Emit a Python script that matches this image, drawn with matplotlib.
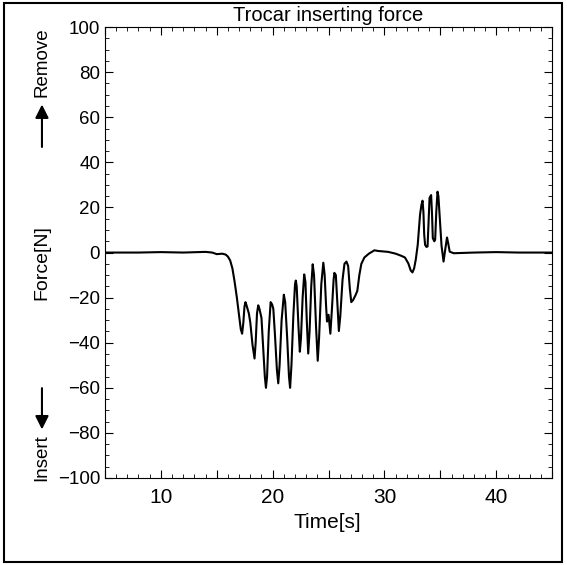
import matplotlib
matplotlib.use('Agg')
import matplotlib.pyplot as plt
from matplotlib.patches import Rectangle
from matplotlib.ticker import MultipleLocator, FuncFormatter

plt.rcParams['font.family'] = ['Liberation Sans', 'DejaVu Sans']

# values (same count on each line)
time_s = [5, 8, 10, 12, 14, 14.6, 15, 15.5, 15.8, 16.0,
          16.2, 16.4, 16.6, 16.8, 17.0, 17.15, 17.27, 17.38, 17.48, 17.57,
          17.67, 17.87, 18.0, 18.2, 18.38, 18.48, 18.6, 18.71, 18.82, 19.0,
          19.15, 19.3, 19.4, 19.5, 19.65, 19.82, 19.95, 20.06, 20.2, 20.38,
          20.5, 20.62, 20.8, 21.0, 21.12, 21.3, 21.46, 21.56, 21.68, 21.85,
          22.0, 22.07, 22.15, 22.3, 22.43, 22.53, 22.68, 22.82, 22.93, 23.05,
          23.18, 23.3, 23.45, 23.58, 23.7, 23.88, 24.03, 24.15, 24.35, 24.53,
          24.65, 24.78, 24.86, 25.0, 25.16, 25.3, 25.45, 25.52, 25.65, 25.78,
          25.92, 26.05, 26.25, 26.42, 26.6, 26.75, 26.9, 27.03, 27.2, 27.4,
          27.57, 27.75, 27.93, 28.2, 28.6, 29.1, 29.43, 30.33, 31.0, 31.53,
          31.83, 32.13, 32.35, 32.5, 32.65, 32.8, 32.97, 33.1, 33.18, 33.3,
          33.4, 33.48, 33.55, 33.63, 33.75, 33.85, 33.95, 34.03, 34.17, 34.25,
          34.32, 34.45, 34.53, 34.63, 34.74, 34.82, 34.92, 35.1, 35.28, 35.42,
          35.59, 35.7, 35.83, 36.19, 38, 40, 42, 45]
force_n = [0, 0, 0.2, 0, 0.3, 0, -0.7, -0.5, -0.9, -1.8,
           -3.5, -7, -13, -20, -28, -34, -36, -31, -24, -22,
           -23.5, -27, -31, -41, -47, -40, -27, -23.4, -25, -29,
           -42, -55, -60, -55, -35, -22, -23, -25, -36, -52,
           -58, -50, -30, -18.7, -22, -38, -55, -60, -50, -28,
           -14, -12.4, -15, -32, -44, -38, -20, -9.7, -13, -30,
           -44.8, -35, -15, -5.2, -10, -33, -48, -38, -14, -4.5,
           -10, -24, -30.6, -27.6, -36, -25, -12, -9, -10, -22,
           -34.8, -28, -12, -5, -4, -6, -16, -22, -21, -19,
           -17, -10, -5, -2.2, -0.5, 1, 0.7, 0.3, -0.5, -1.5,
           -2.2, -4.8, -8, -8.8, -7, -3, 3.4, 12, 16.9, 21,
           23, 18, 8, 3.4, 2.5, 2.7, 15, 24.3, 25.5, 17,
           6.4, 5, 5.7, 18, 27, 25, 16.9, 3, -4, 1,
           6.7, 4, 0.4, -0.3, 0, 0.2, 0, 0]

fig = plt.figure(figsize=(5.67, 5.65), dpi=100)
ax = fig.add_axes([0.185, 0.154, 0.789, 0.798])
ax.plot(time_s, force_n, color='black', lw=1.5)

ax.set_xlim(5, 45)
ax.set_ylim(-100, 100)
ax.xaxis.set_major_locator(MultipleLocator(5))
ax.xaxis.set_minor_locator(MultipleLocator(1))
ax.xaxis.set_major_formatter(FuncFormatter(lambda v, p: '%d' % v if v % 10 == 0 else ''))
ax.yaxis.set_major_locator(MultipleLocator(20))
ax.yaxis.set_minor_locator(MultipleLocator(5))
ax.yaxis.set_major_formatter(FuncFormatter(lambda v, p: ('%d' % v).replace('-', '\u2212')))
ax.tick_params(which='both', direction='in', top=True, right=True)
ax.tick_params(which='major', length=6)
ax.tick_params(which='minor', length=3)
ax.tick_params(axis='x', pad=7, labelsize=15)
ax.tick_params(axis='y', labelsize=13.5)

fig.text(0.578, 0.972, 'Trocar inserting force', ha='center', va='center', fontsize=14.5)
fig.text(0.578, 0.076, 'Time[s]', ha='center', va='center', fontsize=15)

# split y label with arrows
lx = 0.074
fig.text(lx, 0.19, 'Insert', rotation=90, ha='center', va='center', fontsize=13.5)
fig.text(lx, 0.535, 'Force[N]', rotation=90, ha='center', va='center', fontsize=14)
fig.text(lx, 0.89, 'Remove', rotation=90, ha='center', va='center', fontsize=13.5)
arrow = dict(arrowstyle='-|>', color='black', lw=1.5, mutation_scale=20)
ax.annotate('', xy=(lx, 0.235), xytext=(lx, 0.318), xycoords='figure fraction',
            textcoords='figure fraction', arrowprops=arrow)
ax.annotate('', xy=(lx, 0.82), xytext=(lx, 0.735), xycoords='figure fraction',
            textcoords='figure fraction', arrowprops=arrow)

# scanned page frame
fig.add_artist(Rectangle((0.007, 0.005), 0.984, 0.99, transform=fig.transFigure,
                         fill=False, edgecolor='black', lw=1.5))

fig.savefig('out.png', dpi=100)
